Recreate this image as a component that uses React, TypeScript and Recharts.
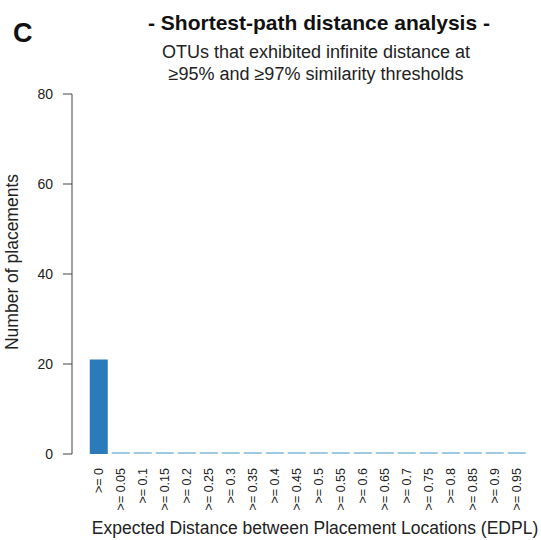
import { BarChart, Bar, Cell, XAxis, YAxis } from "recharts";

// EDPL bins and counts
const categories = [
  ">= 0", ">= 0.05", ">= 0.1", ">= 0.15", ">= 0.2",
  ">= 0.25", ">= 0.3", ">= 0.35", ">= 0.4", ">= 0.45",
  ">= 0.5", ">= 0.55", ">= 0.6", ">= 0.65", ">= 0.7",
  ">= 0.75", ">= 0.8", ">= 0.85", ">= 0.9", ">= 0.95",
];
const placements = [21, 0, 0, 0, 0, 0, 0, 0, 0, 0, 0, 0, 0, 0, 0, 0, 0, 0, 0, 0];
const yTicks = [0, 20, 40, 60, 80];

const data = categories.map((label, i) => ({ label, count: placements[i] }));

const FONT = '"Liberation Sans", Arial, Helvetica, sans-serif';
const BAR = "#2b7bba";
const BAR_EMPTY = "#9ecae1";

function CatTick({ x, y, payload }: any) {
  return (
    <text x={x} y={y} transform={`rotate(-90, ${x}, ${y})`} textAnchor="end"
      dominantBaseline="central" fontSize={12.5} fontFamily={FONT} fill="#222">
      {payload.value}
    </text>
  );
}

export default function App() {
  return (
    <div style={{ position: "absolute", left: 0, top: 0, width: 541, height: 540, background: "#fff" }}>
      <BarChart width={541} height={540} data={data}
        margin={{ top: 94, right: 13, left: 0, bottom: 0 }} barCategoryGap="8%">
        <XAxis dataKey="label" height={86} interval={0} axisLine={false} tickLine={false}
          tickSize={6} tickMargin={8} padding={{ left: 16, right: 0 }} tick={<CatTick />} />
        <YAxis width={72} domain={[0, 80]} ticks={yTicks} interval={0}
          tickSize={9} tickMargin={10} stroke="#444"
          tick={{ fill: "#222", fontSize: 14, fontFamily: FONT }} />
        <Bar dataKey="count" minPointSize={2} isAnimationActive={false}>
          {data.map((d, i) => <Cell key={i} fill={d.count > 0 ? BAR : BAR_EMPTY} />)}
        </Bar>
      </BarChart>
      <svg width={541} height={540} style={{ position: "absolute", left: 0, top: 0, pointerEvents: "none" }}
        fontFamily={FONT}>
        <text x={13} y={42} fontSize={27} fontWeight="bold" fill="#111">C</text>
        <text x={319} y={30} fontSize={21} fontWeight="bold" fill="#111" textAnchor="middle">
          - Shortest-path distance analysis -
        </text>
        <text x={316} y={58} fontSize={18} fill="#222" textAnchor="middle">
          OTUs that exhibited infinite distance at
        </text>
        <text x={316} y={80} fontSize={18} fill="#222" textAnchor="middle">
          ≥95% and ≥97% similarity thresholds
        </text>
        <text x={315} y={534} fontSize={17.5} fill="#222" textAnchor="middle">
          Expected Distance between Placement Locations (EDPL)
        </text>
        <text x={18} y={262} fontSize={17.5} fill="#222" textAnchor="middle"
          transform="rotate(-90, 18, 262)">
          Number of placements
        </text>
      </svg>
    </div>
  );
}
